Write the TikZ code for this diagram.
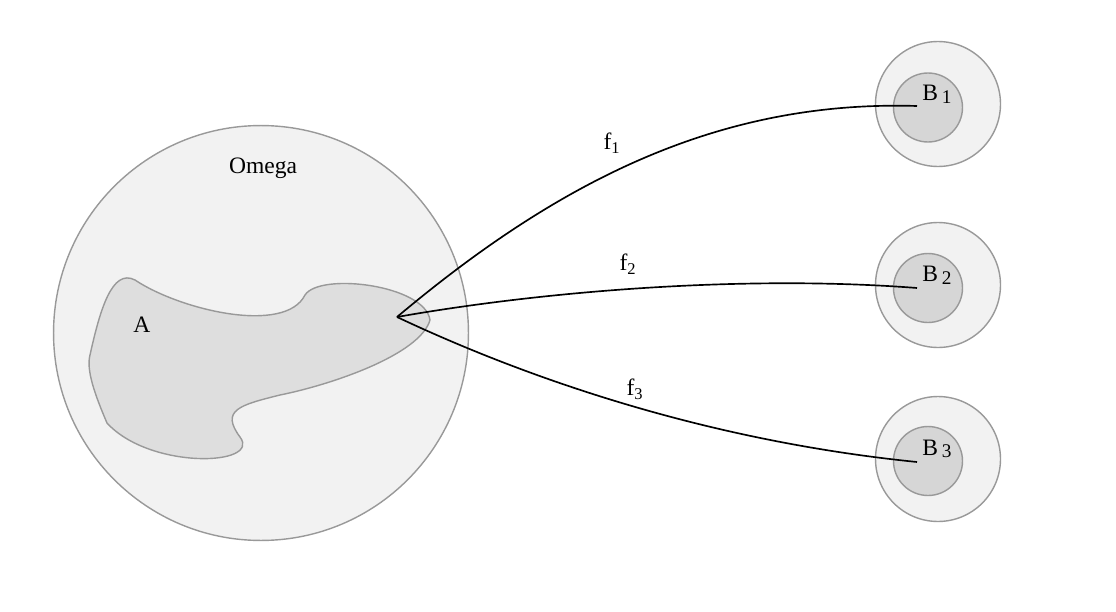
\documentclass[tikz,border=0pt]{standalone}
\usepackage{fontspec}
\setmainfont{Liberation Serif}
\usepackage{tikz}

\begin{document}
\begin{tikzpicture}[x=0.02cm, y=-0.02cm, font=\fontsize{13.4}{16}\selectfont,
  set/.style={circle, draw=black!40, fill=black!5, line width=0.8pt, inner sep=0pt},
  subset/.style={circle, draw=black!40, fill=black!16, line width=0.8pt, inner sep=0pt},
  map/.style={line width=0.95pt}]

% Frame
\useasboundingbox (0,0) rectangle (1116,612);

% Omega
\node[set, minimum size=8.3cm] (omega) at (261,333) {};
\node (omegalabel) at (263,168) {Omega};

% Set A
\filldraw[draw=black!40, fill=black!13, line width=0.8pt]
  (135,280) .. controls (180,310) and (285,335) .. (305,295)
  .. controls (320,272) and (425,285) .. (430,320)
  .. controls (420,355) and (330,385) .. (280,395)
  .. controls (240,405) and (220,410) .. (240,437)
  .. controls (262,466) and (150,470) .. (107,423)
  .. controls (95,395) and (86,370) .. (90,355)
  .. controls (100,310) and (112,268) .. (135,280) -- cycle;
\node (alabel) at (142,325) {A};

% Point in A
\coordinate (p) at (397,317);

% B_1, B_2, B_3
\foreach \i/\y/\dy in {1/104/3.5, 2/285/3, 3/459/2} {
  \node[set, minimum size=2.5cm] (outer\i) at (938,\y) {};
  \node[subset, minimum size=1.38cm] (inner\i) at (928,\y+\dy) {};
  \node (blabel\i) at (937,\y-10) {B\,\raisebox{-0.25ex}{\fontsize{11}{13}\selectfont\i}};
}

% Targets
\coordinate (q1) at (917,106);
\coordinate (q2) at (917,288);
\coordinate (q3) at (917,462);

% Maps
\draw[map] (p) .. controls (560,180) and (720,100) .. (q1);
\draw[map] (p) .. controls (550,290) and (750,275) .. (q2);
\draw[map] (p) .. controls (520,375) and (700,440) .. (q3);

% Labels
\node (f1) at (612,143) {f\textsubscript{1}};
\node (f2) at (628,264) {f\textsubscript{2}};
\node (f3) at (635,389) {f\textsubscript{3}};

\end{tikzpicture}
\end{document}
